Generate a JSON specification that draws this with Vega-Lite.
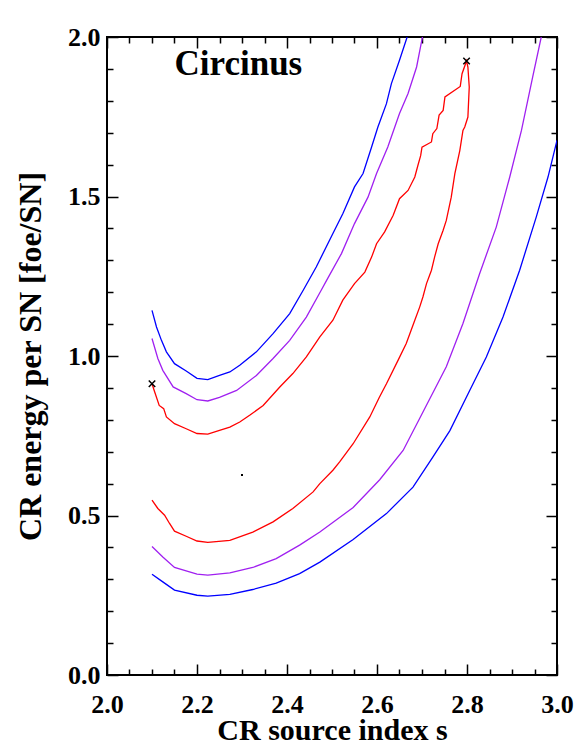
{
  "$schema": "https://vega.github.io/schema/vega-lite/v6.json",
  "width": 450,
  "height": 638,
  "autosize": {"type": "none"},
  "padding": {"left": 107, "top": 37, "right": 24, "bottom": 76},
  "background": "white",
  "config": {
    "view": {"stroke": "black", "strokeWidth": 2},
    "axis": {
      "labelFont": "Liberation Serif",
      "labelFontWeight": "bold",
      "labelFontSize": 26,
      "labelColor": "black",
      "labelFlush": false,
      "labelOverlap": false,
      "titleFont": "Liberation Serif",
      "titleFontWeight": "bold",
      "titleFontSize": 30,
      "titleColor": "black",
      "domain": false,
      "ticks": true,
      "tickColor": "black",
      "tickWidth": 1.5,
      "tickOpacity": 1,
      "grid": false
    }
  },
  "datasets": {
    "curves": [
      {"curve": "red", "col": "red", "i": 1, "x": 2.100, "y": 0.913},
      {"curve": "red", "col": "red", "i": 2, "x": 2.106, "y": 0.887},
      {"curve": "red", "col": "red", "i": 3, "x": 2.116, "y": 0.845},
      {"curve": "red", "col": "red", "i": 4, "x": 2.126, "y": 0.835},
      {"curve": "red", "col": "red", "i": 5, "x": 2.132, "y": 0.809},
      {"curve": "red", "col": "red", "i": 6, "x": 2.150, "y": 0.788},
      {"curve": "red", "col": "red", "i": 7, "x": 2.176, "y": 0.772},
      {"curve": "red", "col": "red", "i": 8, "x": 2.200, "y": 0.757},
      {"curve": "red", "col": "red", "i": 9, "x": 2.224, "y": 0.755},
      {"curve": "red", "col": "red", "i": 10, "x": 2.250, "y": 0.767},
      {"curve": "red", "col": "red", "i": 11, "x": 2.273, "y": 0.777},
      {"curve": "red", "col": "red", "i": 12, "x": 2.295, "y": 0.793},
      {"curve": "red", "col": "red", "i": 13, "x": 2.317, "y": 0.814},
      {"curve": "red", "col": "red", "i": 14, "x": 2.347, "y": 0.845},
      {"curve": "red", "col": "red", "i": 15, "x": 2.384, "y": 0.903},
      {"curve": "red", "col": "red", "i": 16, "x": 2.413, "y": 0.945},
      {"curve": "red", "col": "red", "i": 17, "x": 2.443, "y": 0.997},
      {"curve": "red", "col": "red", "i": 18, "x": 2.473, "y": 1.060},
      {"curve": "red", "col": "red", "i": 19, "x": 2.502, "y": 1.112},
      {"curve": "red", "col": "red", "i": 20, "x": 2.524, "y": 1.175},
      {"curve": "red", "col": "red", "i": 21, "x": 2.550, "y": 1.227},
      {"curve": "red", "col": "red", "i": 22, "x": 2.573, "y": 1.263},
      {"curve": "red", "col": "red", "i": 23, "x": 2.588, "y": 1.310},
      {"curve": "red", "col": "red", "i": 24, "x": 2.599, "y": 1.352},
      {"curve": "red", "col": "red", "i": 25, "x": 2.617, "y": 1.389},
      {"curve": "red", "col": "red", "i": 26, "x": 2.636, "y": 1.441},
      {"curve": "red", "col": "red", "i": 27, "x": 2.650, "y": 1.493},
      {"curve": "red", "col": "red", "i": 28, "x": 2.669, "y": 1.519},
      {"curve": "red", "col": "red", "i": 29, "x": 2.684, "y": 1.561},
      {"curve": "red", "col": "red", "i": 30, "x": 2.691, "y": 1.598},
      {"curve": "red", "col": "red", "i": 31, "x": 2.697, "y": 1.628},
      {"curve": "red", "col": "red", "i": 32, "x": 2.700, "y": 1.655},
      {"curve": "red", "col": "red", "i": 33, "x": 2.721, "y": 1.671},
      {"curve": "red", "col": "red", "i": 34, "x": 2.724, "y": 1.697},
      {"curve": "red", "col": "red", "i": 35, "x": 2.733, "y": 1.713},
      {"curve": "red", "col": "red", "i": 36, "x": 2.738, "y": 1.755},
      {"curve": "red", "col": "red", "i": 37, "x": 2.747, "y": 1.770},
      {"curve": "red", "col": "red", "i": 38, "x": 2.751, "y": 1.812},
      {"curve": "red", "col": "red", "i": 39, "x": 2.785, "y": 1.845},
      {"curve": "red", "col": "red", "i": 40, "x": 2.789, "y": 1.885},
      {"curve": "red", "col": "red", "i": 41, "x": 2.799, "y": 1.925},
      {"curve": "red", "col": "red", "i": 42, "x": 2.802, "y": 1.906},
      {"curve": "red", "col": "red", "i": 43, "x": 2.805, "y": 1.843},
      {"curve": "red", "col": "red", "i": 44, "x": 2.802, "y": 1.749},
      {"curve": "red", "col": "red", "i": 45, "x": 2.795, "y": 1.718},
      {"curve": "red", "col": "red", "i": 46, "x": 2.791, "y": 1.707},
      {"curve": "red", "col": "red", "i": 47, "x": 2.784, "y": 1.644},
      {"curve": "red", "col": "red", "i": 48, "x": 2.773, "y": 1.572},
      {"curve": "red", "col": "red", "i": 49, "x": 2.765, "y": 1.498},
      {"curve": "red", "col": "red", "i": 50, "x": 2.754, "y": 1.425},
      {"curve": "red", "col": "red", "i": 51, "x": 2.747, "y": 1.394},
      {"curve": "red", "col": "red", "i": 52, "x": 2.736, "y": 1.352},
      {"curve": "red", "col": "red", "i": 53, "x": 2.728, "y": 1.310},
      {"curve": "red", "col": "red", "i": 54, "x": 2.721, "y": 1.269},
      {"curve": "red", "col": "red", "i": 55, "x": 2.710, "y": 1.227},
      {"curve": "red", "col": "red", "i": 56, "x": 2.702, "y": 1.185},
      {"curve": "red", "col": "red", "i": 57, "x": 2.695, "y": 1.154},
      {"curve": "red", "col": "red", "i": 58, "x": 2.684, "y": 1.112},
      {"curve": "red", "col": "red", "i": 59, "x": 2.665, "y": 1.039},
      {"curve": "red", "col": "red", "i": 60, "x": 2.647, "y": 0.987},
      {"curve": "red", "col": "red", "i": 61, "x": 2.621, "y": 0.913},
      {"curve": "red", "col": "red", "i": 62, "x": 2.605, "y": 0.870},
      {"curve": "red", "col": "red", "i": 63, "x": 2.584, "y": 0.809},
      {"curve": "red", "col": "red", "i": 64, "x": 2.547, "y": 0.725},
      {"curve": "red", "col": "red", "i": 65, "x": 2.517, "y": 0.668},
      {"curve": "red", "col": "red", "i": 66, "x": 2.502, "y": 0.642},
      {"curve": "red", "col": "red", "i": 67, "x": 2.473, "y": 0.600},
      {"curve": "red", "col": "red", "i": 68, "x": 2.458, "y": 0.574},
      {"curve": "red", "col": "red", "i": 69, "x": 2.413, "y": 0.522},
      {"curve": "red", "col": "red", "i": 70, "x": 2.369, "y": 0.480},
      {"curve": "red", "col": "red", "i": 71, "x": 2.324, "y": 0.448},
      {"curve": "red", "col": "red", "i": 72, "x": 2.273, "y": 0.422},
      {"curve": "red", "col": "red", "i": 73, "x": 2.224, "y": 0.416},
      {"curve": "red", "col": "red", "i": 74, "x": 2.200, "y": 0.420},
      {"curve": "red", "col": "red", "i": 75, "x": 2.176, "y": 0.435},
      {"curve": "red", "col": "red", "i": 76, "x": 2.150, "y": 0.451},
      {"curve": "red", "col": "red", "i": 77, "x": 2.139, "y": 0.475},
      {"curve": "red", "col": "red", "i": 78, "x": 2.128, "y": 0.501},
      {"curve": "red", "col": "red", "i": 79, "x": 2.113, "y": 0.522},
      {"curve": "red", "col": "red", "i": 80, "x": 2.100, "y": 0.548},

      {"curve": "purple_in", "col": "purple", "i": 1, "x": 2.100, "y": 1.055},
      {"curve": "purple_in", "col": "purple", "i": 2, "x": 2.113, "y": 0.992},
      {"curve": "purple_in", "col": "purple", "i": 3, "x": 2.124, "y": 0.955},
      {"curve": "purple_in", "col": "purple", "i": 4, "x": 2.147, "y": 0.903},
      {"curve": "purple_in", "col": "purple", "i": 5, "x": 2.176, "y": 0.882},
      {"curve": "purple_in", "col": "purple", "i": 6, "x": 2.200, "y": 0.863},
      {"curve": "purple_in", "col": "purple", "i": 7, "x": 2.224, "y": 0.859},
      {"curve": "purple_in", "col": "purple", "i": 8, "x": 2.250, "y": 0.870},
      {"curve": "purple_in", "col": "purple", "i": 9, "x": 2.288, "y": 0.892},
      {"curve": "purple_in", "col": "purple", "i": 10, "x": 2.332, "y": 0.939},
      {"curve": "purple_in", "col": "purple", "i": 11, "x": 2.369, "y": 0.992},
      {"curve": "purple_in", "col": "purple", "i": 12, "x": 2.406, "y": 1.049},
      {"curve": "purple_in", "col": "purple", "i": 13, "x": 2.443, "y": 1.122},
      {"curve": "purple_in", "col": "purple", "i": 14, "x": 2.476, "y": 1.206},
      {"curve": "purple_in", "col": "purple", "i": 15, "x": 2.488, "y": 1.237},
      {"curve": "purple_in", "col": "purple", "i": 16, "x": 2.521, "y": 1.321},
      {"curve": "purple_in", "col": "purple", "i": 17, "x": 2.550, "y": 1.415},
      {"curve": "purple_in", "col": "purple", "i": 18, "x": 2.580, "y": 1.498},
      {"curve": "purple_in", "col": "purple", "i": 19, "x": 2.599, "y": 1.572},
      {"curve": "purple_in", "col": "purple", "i": 20, "x": 2.624, "y": 1.655},
      {"curve": "purple_in", "col": "purple", "i": 21, "x": 2.650, "y": 1.760},
      {"curve": "purple_in", "col": "purple", "i": 22, "x": 2.669, "y": 1.823},
      {"curve": "purple_in", "col": "purple", "i": 23, "x": 2.688, "y": 1.906},
      {"curve": "purple_in", "col": "purple", "i": 24, "x": 2.701, "y": 2.000},

      {"curve": "purple_out", "col": "purple", "i": 1, "x": 2.100, "y": 0.403},
      {"curve": "purple_out", "col": "purple", "i": 2, "x": 2.124, "y": 0.370},
      {"curve": "purple_out", "col": "purple", "i": 3, "x": 2.150, "y": 0.337},
      {"curve": "purple_out", "col": "purple", "i": 4, "x": 2.200, "y": 0.316},
      {"curve": "purple_out", "col": "purple", "i": 5, "x": 2.224, "y": 0.313},
      {"curve": "purple_out", "col": "purple", "i": 6, "x": 2.273, "y": 0.320},
      {"curve": "purple_out", "col": "purple", "i": 7, "x": 2.324, "y": 0.337},
      {"curve": "purple_out", "col": "purple", "i": 8, "x": 2.376, "y": 0.365},
      {"curve": "purple_out", "col": "purple", "i": 9, "x": 2.428, "y": 0.407},
      {"curve": "purple_out", "col": "purple", "i": 10, "x": 2.473, "y": 0.448},
      {"curve": "purple_out", "col": "purple", "i": 11, "x": 2.547, "y": 0.525},
      {"curve": "purple_out", "col": "purple", "i": 12, "x": 2.606, "y": 0.612},
      {"curve": "purple_out", "col": "purple", "i": 13, "x": 2.658, "y": 0.704},
      {"curve": "purple_out", "col": "purple", "i": 14, "x": 2.695, "y": 0.805},
      {"curve": "purple_out", "col": "purple", "i": 15, "x": 2.754, "y": 0.966},
      {"curve": "purple_out", "col": "purple", "i": 16, "x": 2.791, "y": 1.102},
      {"curve": "purple_out", "col": "purple", "i": 17, "x": 2.828, "y": 1.258},
      {"curve": "purple_out", "col": "purple", "i": 18, "x": 2.865, "y": 1.404},
      {"curve": "purple_out", "col": "purple", "i": 19, "x": 2.895, "y": 1.561},
      {"curve": "purple_out", "col": "purple", "i": 20, "x": 2.921, "y": 1.707},
      {"curve": "purple_out", "col": "purple", "i": 21, "x": 2.946, "y": 1.875},
      {"curve": "purple_out", "col": "purple", "i": 22, "x": 2.965, "y": 2.000},

      {"curve": "blue_in", "col": "blue", "i": 1, "x": 2.100, "y": 1.143},
      {"curve": "blue_in", "col": "blue", "i": 2, "x": 2.110, "y": 1.091},
      {"curve": "blue_in", "col": "blue", "i": 3, "x": 2.121, "y": 1.049},
      {"curve": "blue_in", "col": "blue", "i": 4, "x": 2.132, "y": 1.013},
      {"curve": "blue_in", "col": "blue", "i": 5, "x": 2.150, "y": 0.976},
      {"curve": "blue_in", "col": "blue", "i": 6, "x": 2.176, "y": 0.953},
      {"curve": "blue_in", "col": "blue", "i": 7, "x": 2.200, "y": 0.930},
      {"curve": "blue_in", "col": "blue", "i": 8, "x": 2.224, "y": 0.926},
      {"curve": "blue_in", "col": "blue", "i": 9, "x": 2.250, "y": 0.939},
      {"curve": "blue_in", "col": "blue", "i": 10, "x": 2.273, "y": 0.950},
      {"curve": "blue_in", "col": "blue", "i": 11, "x": 2.295, "y": 0.971},
      {"curve": "blue_in", "col": "blue", "i": 12, "x": 2.332, "y": 1.013},
      {"curve": "blue_in", "col": "blue", "i": 13, "x": 2.369, "y": 1.070},
      {"curve": "blue_in", "col": "blue", "i": 14, "x": 2.406, "y": 1.133},
      {"curve": "blue_in", "col": "blue", "i": 15, "x": 2.436, "y": 1.206},
      {"curve": "blue_in", "col": "blue", "i": 16, "x": 2.465, "y": 1.279},
      {"curve": "blue_in", "col": "blue", "i": 17, "x": 2.502, "y": 1.384},
      {"curve": "blue_in", "col": "blue", "i": 18, "x": 2.524, "y": 1.446},
      {"curve": "blue_in", "col": "blue", "i": 19, "x": 2.550, "y": 1.530},
      {"curve": "blue_in", "col": "blue", "i": 20, "x": 2.569, "y": 1.572},
      {"curve": "blue_in", "col": "blue", "i": 21, "x": 2.588, "y": 1.655},
      {"curve": "blue_in", "col": "blue", "i": 22, "x": 2.602, "y": 1.718},
      {"curve": "blue_in", "col": "blue", "i": 23, "x": 2.621, "y": 1.791},
      {"curve": "blue_in", "col": "blue", "i": 24, "x": 2.632, "y": 1.854},
      {"curve": "blue_in", "col": "blue", "i": 25, "x": 2.650, "y": 1.927},
      {"curve": "blue_in", "col": "blue", "i": 26, "x": 2.667, "y": 2.000},

      {"curve": "blue_out", "col": "blue", "i": 1, "x": 2.100, "y": 0.316},
      {"curve": "blue_out", "col": "blue", "i": 2, "x": 2.124, "y": 0.292},
      {"curve": "blue_out", "col": "blue", "i": 3, "x": 2.150, "y": 0.266},
      {"curve": "blue_out", "col": "blue", "i": 4, "x": 2.200, "y": 0.250},
      {"curve": "blue_out", "col": "blue", "i": 5, "x": 2.224, "y": 0.247},
      {"curve": "blue_out", "col": "blue", "i": 6, "x": 2.273, "y": 0.253},
      {"curve": "blue_out", "col": "blue", "i": 7, "x": 2.324, "y": 0.268},
      {"curve": "blue_out", "col": "blue", "i": 8, "x": 2.376, "y": 0.288},
      {"curve": "blue_out", "col": "blue", "i": 9, "x": 2.428, "y": 0.318},
      {"curve": "blue_out", "col": "blue", "i": 10, "x": 2.473, "y": 0.354},
      {"curve": "blue_out", "col": "blue", "i": 11, "x": 2.547, "y": 0.425},
      {"curve": "blue_out", "col": "blue", "i": 12, "x": 2.621, "y": 0.506},
      {"curve": "blue_out", "col": "blue", "i": 13, "x": 2.680, "y": 0.589},
      {"curve": "blue_out", "col": "blue", "i": 14, "x": 2.724, "y": 0.683},
      {"curve": "blue_out", "col": "blue", "i": 15, "x": 2.762, "y": 0.766},
      {"curve": "blue_out", "col": "blue", "i": 16, "x": 2.806, "y": 0.892},
      {"curve": "blue_out", "col": "blue", "i": 17, "x": 2.843, "y": 0.997},
      {"curve": "blue_out", "col": "blue", "i": 18, "x": 2.880, "y": 1.122},
      {"curve": "blue_out", "col": "blue", "i": 19, "x": 2.917, "y": 1.269},
      {"curve": "blue_out", "col": "blue", "i": 20, "x": 2.954, "y": 1.436},
      {"curve": "blue_out", "col": "blue", "i": 21, "x": 2.980, "y": 1.561},
      {"curve": "blue_out", "col": "blue", "i": 22, "x": 3.000, "y": 1.676}
    ],
    "crosses": [
      {"x": 2.100, "y": 0.913},
      {"x": 2.799, "y": 1.925}
    ],
    "dot": [
      {"x": 2.300, "y": 0.627}
    ],
    "label": [
      {"x": 2.150, "y": 1.88, "text": "Circinus"}
    ]
  },
  "resolve": {"axis": {"x": "independent", "y": "independent"}},
  "layer": [
    {
      "data": {"name": "curves"},
      "mark": {"type": "line", "strokeWidth": 1.3, "clip": true},
      "encoding": {
        "x": {"field": "x", "type": "quantitative",
              "scale": {"domain": [2, 3], "nice": false, "zero": false},
              "axis": {"orient": "bottom", "values": [2.0, 2.2, 2.4, 2.6, 2.8, 3.0], "format": ".1f",
                       "offset": -11, "tickSize": 11, "labelPadding": 16, "title": "CR source index s", "titlePadding": -2}},
        "y": {"field": "y", "type": "quantitative",
              "scale": {"domain": [0, 2], "nice": false, "zero": false},
              "axis": {"orient": "left", "values": [0, 0.5, 1.0, 1.5, 2.0], "format": ".1f",
                       "offset": -11, "tickSize": 11, "labelPadding": 7, "title": "CR energy per SN [foe/SN]", "titlePadding": 20, "titleFontSize": 32}},
        "color": {"field": "col", "type": "nominal",
                  "scale": {"domain": ["red", "purple", "blue"], "range": ["#ff0000", "#a020f0", "#0000ff"]},
                  "legend": null},
        "detail": {"field": "curve"},
        "order": {"field": "i", "type": "quantitative"}
      }
    },
    {
      "data": {"name": "crosses"},
      "mark": {"type": "point", "shape": "M-1,-1L1,1M-1,1L1,-1", "filled": false, "color": "black", "strokeWidth": 1.5, "size": 42, "opacity": 1},
      "encoding": {
        "x": {"field": "x", "type": "quantitative",
              "scale": {"domain": [2, 3], "nice": false, "zero": false},
              "axis": {"orient": "top", "values": [2.0, 2.2, 2.4, 2.6, 2.8, 3.0], "labels": false, "offset": -11, "tickSize": 11, "title": null}},
        "y": {"field": "y", "type": "quantitative",
              "scale": {"domain": [0, 2], "nice": false, "zero": false},
              "axis": {"orient": "right", "values": [0, 0.5, 1.0, 1.5, 2.0], "labels": false, "offset": -11, "tickSize": 11, "title": null}}
      }
    },
    {
      "data": {"name": "dot"},
      "mark": {"type": "square", "color": "black", "size": 4, "opacity": 1},
      "encoding": {
        "x": {"field": "x", "type": "quantitative",
              "scale": {"domain": [2, 3], "nice": false, "zero": false},
              "axis": {"orient": "bottom", "values": [2.05, 2.1, 2.15, 2.25, 2.3, 2.35, 2.45, 2.5, 2.55, 2.65, 2.7, 2.75, 2.85, 2.9, 2.95], "labels": false, "offset": -6, "tickSize": 6, "title": null}},
        "y": {"field": "y", "type": "quantitative",
              "scale": {"domain": [0, 2], "nice": false, "zero": false},
              "axis": {"orient": "left", "values": [0.1, 0.2, 0.3, 0.4, 0.6, 0.7, 0.8, 0.9, 1.1, 1.2, 1.3, 1.4, 1.6, 1.7, 1.8, 1.9], "labels": false, "offset": -6, "tickSize": 6, "title": null}}
      }
    },
    {
      "data": {"name": "label"},
      "mark": {"type": "text", "font": "Liberation Serif", "fontWeight": "bold", "fontSize": 35, "align": "left", "baseline": "alphabetic", "color": "black"},
      "encoding": {
        "text": {"field": "text"},
        "x": {"field": "x", "type": "quantitative",
              "scale": {"domain": [2, 3], "nice": false, "zero": false},
              "axis": {"orient": "top", "values": [2.05, 2.1, 2.15, 2.25, 2.3, 2.35, 2.45, 2.5, 2.55, 2.65, 2.7, 2.75, 2.85, 2.9, 2.95], "labels": false, "offset": -6, "tickSize": 6, "title": null}},
        "y": {"field": "y", "type": "quantitative",
              "scale": {"domain": [0, 2], "nice": false, "zero": false},
              "axis": {"orient": "right", "values": [0.1, 0.2, 0.3, 0.4, 0.6, 0.7, 0.8, 0.9, 1.1, 1.2, 1.3, 1.4, 1.6, 1.7, 1.8, 1.9], "labels": false, "offset": -6, "tickSize": 6, "title": null}}
      }
    }
  ]
}
